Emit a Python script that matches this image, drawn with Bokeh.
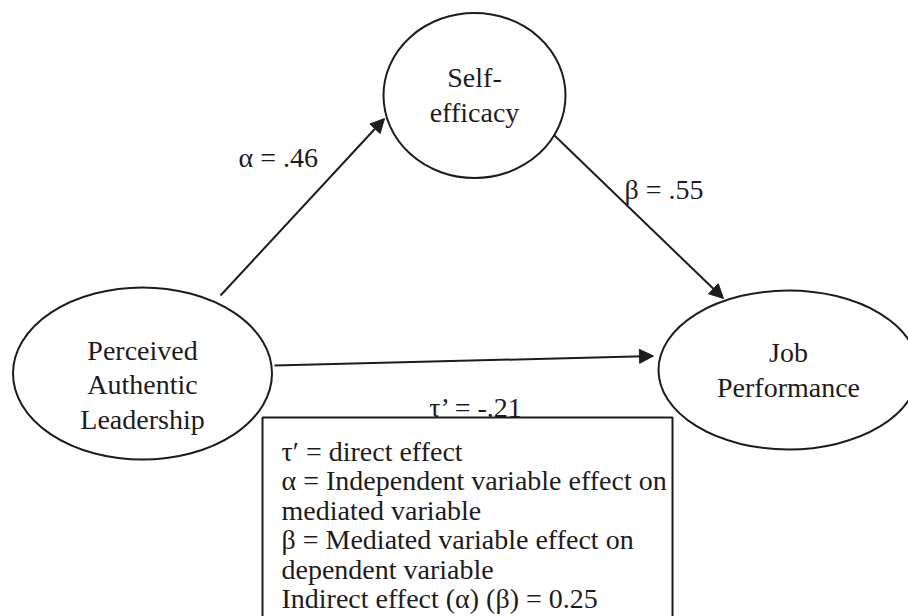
from bokeh.plotting import figure
from bokeh.models import Range1d, Arrow, NormalHead
from bokeh.core.properties import value
from bokeh.embed import file_html
from bokeh.resources import INLINE

# ---- data ----
node_names = ["Perceived Authentic Leadership", "Self-efficacy", "Job Performance"]
node_lines = [["Perceived", "Authentic", "Leadership"], ["Self-", "efficacy"], ["Job", "Performance"]]
path_symbols = ["\u03b1", "\u03b2", "\u03c4\u2019"]
path_values = [0.46, 0.55, -0.21]
indirect_effect = 0.25
legend_lines = [
    "\u03c4\u2032 = direct effect",
    "\u03b1 = Independent variable effect on",
    "mediated variable",
    "\u03b2 = Mediated variable effect on",
    "dependent variable",
    "Indirect effect (\u03b1) (\u03b2) = %.2f" % indirect_effect,
]

# ---- layout (page pixel coordinates) ----
ell_x = [142, 474, 788]
ell_y = [373, 95, 369.5]
ell_w = [259, 182, 260]
ell_h = [172, 165, 159]
text_first_baseline = [349.5, 77, 352]
text_line_gap = 34.5
arrow_start = [(220, 295), (554, 135), (274, 365)]
arrow_end = [(384, 118), (723, 298), (653, 355.5)]
label_pos = [(238, 157, "left"), (624, 189, "left"), (476, 406.5, "center")]
box = dict(left=262, right=672, top=417, bottom=650)
legend_x = 281
legend_first_baseline = 451
legend_gap = 29.4

FONT = value("Liberation Serif")
INK = "#1e1b1c"
FS = "28px"


def fmt(v):
    s = "%.2f" % abs(v)
    s = s[1:] if s.startswith("0") else s
    return ("-" if v < 0 else "") + s


p = figure(width=908, height=616, x_range=Range1d(0, 908), y_range=Range1d(616, 0),
           output_backend="svg", toolbar_location=None, min_border=0,
           x_axis_type=None, y_axis_type=None)
p.grid.visible = False
p.outline_line_color = None
p.background_fill_color = "white"
p.border_fill_color = "white"

# arrows
for (xs, ys), (xe, ye) in zip(arrow_start, arrow_end):
    p.add_layout(Arrow(end=NormalHead(size=14, fill_color=INK, line_color=INK, line_width=1),
                       x_start=xs, y_start=ys, x_end=xe, y_end=ye,
                       line_width=2, line_color=INK))

# ellipses
p.ellipse(x=ell_x, y=ell_y, width=ell_w, height=ell_h,
          fill_color="white", line_color=INK, line_width=2)

# node texts
tx, ty, tt = [], [], []
for i, lines in enumerate(node_lines):
    for j, ln in enumerate(lines):
        tx.append(ell_x[i])
        ty.append(text_first_baseline[i] + j * text_line_gap)
        tt.append(ln)
p.text(x=tx, y=ty, text=tt, text_font=FONT, text_font_size=FS, text_color=INK,
       text_align="center", text_baseline="alphabetic")

# path labels
for (lx, ly, al), sym, v in zip(label_pos, path_symbols, path_values):
    p.text(x=[lx], y=[ly], text=["%s = %s" % (sym, fmt(v))], text_font=FONT,
           text_font_size=FS, text_color=INK, text_align=al, text_baseline="alphabetic")

# legend box
p.quad(left=[box["left"]], right=[box["right"]], top=[box["top"]], bottom=[box["bottom"]],
       fill_color="white", line_color=INK, line_width=2)
p.text(x=[legend_x] * len(legend_lines),
       y=[legend_first_baseline + k * legend_gap for k in range(len(legend_lines))],
       text=legend_lines, text_font=FONT, text_font_size=FS, text_color=INK,
       text_align="left", text_baseline="alphabetic")

open("out.html", "w").write(file_html(p, INLINE))
